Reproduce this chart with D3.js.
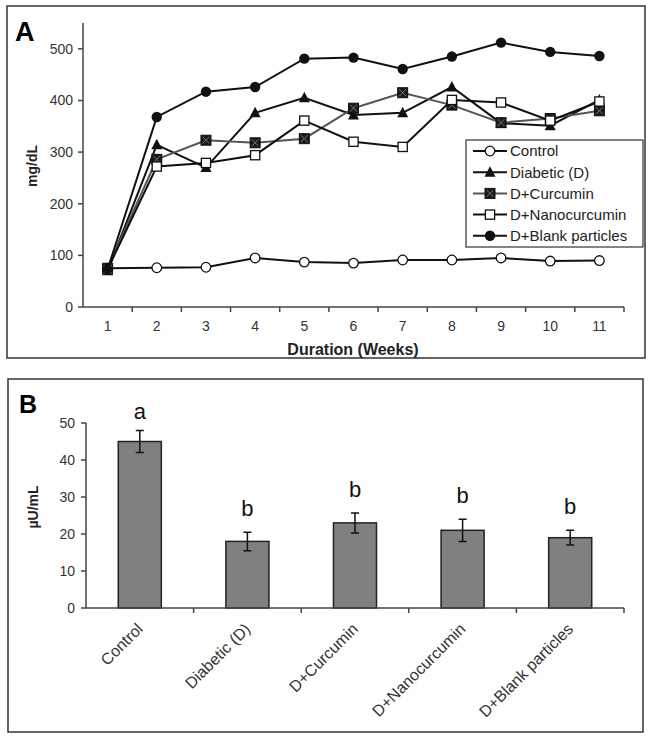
<!DOCTYPE html>
<html><head><meta charset="utf-8">
<script src="https://cdn.jsdelivr.net/npm/d3@7"></script>
<style>body{margin:0;background:#fff} text{font-family:"Liberation Sans",Arial,sans-serif}</style>
</head><body><svg id="c" width="653" height="739"></svg>
<script>
// ---- Panel A data (blood glucose, mg/dL) ----
const weeks = [1,2,3,4,5,6,7,8,9,10,11];
const control      = [75,76,77,95,87,85,91,91,95,89,90];
const diabetic     = [70,314,270,376,405,372,376,426,356,351,401];
const curcumin     = [75,286,323,318,326,385,415,391,357,365,380];
const nanocurcumin = [73,272,279,294,361,320,310,401,396,361,398];
const blank        = [73,368,417,426,481,483,461,485,512,494,486];
const seriesNames  = ["Control","Diabetic (D)","D+Curcumin","D+Nanocurcumin","D+Blank particles"];
const yTicksA = [0,100,200,300,400,500];

// ---- Panel B data (insulin, µU/mL) ----
const groups     = ["Control","Diabetic (D)","D+Curcumin","D+Nanocurcumin","D+Blank particles"];
const insulin    = [45,18,23,21,19];
const insulinErr = [3,2.5,2.7,3,2];
const letters    = ["a","b","b","b","b"];
const yTicksB = [0,10,20,30,40,50];

const svg = d3.select("#c");
const axisCol = "#444", tickTextCol = "#333";

// ---------- Panel A ----------
svg.append("rect").attr("x",7).attr("y",6).attr("width",638).attr("height",352)
  .attr("fill","none").attr("stroke","#333").attr("stroke-width",1.5);
svg.append("text").attr("x",15).attr("y",41).attr("font-size",27).attr("font-weight","bold").text("A");

const xA = d3.scaleBand().domain(weeks).range([83,624]);
const cx = w => xA(w) + xA.bandwidth()/2;
const yA = d3.scaleLinear().domain([0,550]).range([307,23]);

const gA = svg.append("g");
gA.append("line").attr("x1",83).attr("x2",83).attr("y1",yA(550)).attr("y2",yA(0)).attr("stroke",axisCol).attr("stroke-width",1.5);
yTicksA.forEach(t=>{
  gA.append("line").attr("x1",78).attr("x2",83).attr("y1",yA(t)).attr("y2",yA(t)).attr("stroke",axisCol).attr("stroke-width",1.5);
  gA.append("text").attr("x",73).attr("y",yA(t)).attr("dy","0.35em").attr("text-anchor","end")
    .attr("font-size",14).attr("fill",tickTextCol).text(t);
});
gA.append("line").attr("x1",83).attr("x2",624).attr("y1",yA(0)).attr("y2",yA(0)).attr("stroke",axisCol).attr("stroke-width",1.5);
weeks.forEach(w=>{
  const e = xA(w)+xA.bandwidth();
  gA.append("line").attr("x1",e).attr("x2",e).attr("y1",yA(0)).attr("y2",yA(0)+5).attr("stroke",axisCol).attr("stroke-width",1.5);
  gA.append("text").attr("x",cx(w)).attr("y",331).attr("text-anchor","middle")
    .attr("font-size",14).attr("fill",tickTextCol).text(w);
});
gA.append("text").attr("x",353).attr("y",355).attr("text-anchor","middle").attr("font-size",16)
  .attr("font-weight","bold").attr("fill","#222").text("Duration (Weeks)");
gA.append("text").attr("transform","translate(37,166) rotate(-90)").attr("text-anchor","middle")
  .attr("font-size",14).attr("font-weight","bold").attr("fill","#222").text("mg/dL");

function marker(g, type, x, y){
  if(type==="oc") g.append("circle").attr("cx",x).attr("cy",y).attr("r",4.8).attr("fill","#fff").attr("stroke","#111").attr("stroke-width",1.3);
  if(type==="fc") g.append("circle").attr("cx",x).attr("cy",y).attr("r",5.2).attr("fill","#111");
  if(type==="tr") g.append("path").attr("d",`M${x},${y-6}L${x+5.5},${y+4.5}L${x-5.5},${y+4.5}Z`).attr("fill","#111");
  if(type==="os") g.append("rect").attr("x",x-4.6).attr("y",y-4.6).attr("width",9.2).attr("height",9.2).attr("fill","#fff").attr("stroke","#111").attr("stroke-width",1.3);
  if(type==="xs"){
    g.append("rect").attr("x",x-5).attr("y",y-5).attr("width",10).attr("height",10).attr("fill","#1a1a1a").attr("stroke","#111").attr("stroke-width",1);
    g.append("path").attr("d",`M${x-3.5},${y-3.5}L${x+3.5},${y+3.5}M${x+3.5},${y-3.5}L${x-3.5},${y+3.5}`).attr("stroke","#777").attr("stroke-width",1);
  }
}
const series = [
  {name:seriesNames[0], vals:control, m:"oc", col:"#111"},
  {name:seriesNames[1], vals:diabetic, m:"tr", col:"#111"},
  {name:seriesNames[2], vals:curcumin, m:"xs", col:"#555"},
  {name:seriesNames[3], vals:nanocurcumin, m:"os", col:"#111"},
  {name:seriesNames[4], vals:blank, m:"fc", col:"#111"}
];
const line = d3.line().x((d,i)=>cx(weeks[i])).y(d=>yA(d));
series.forEach(s=>{
  gA.append("path").attr("d",line(s.vals)).attr("fill","none").attr("stroke",s.col).attr("stroke-width",2);
});
series.forEach(s=>{
  s.vals.forEach((v,i)=>marker(gA,s.m,cx(weeks[i]),yA(v)));
});
const lg = svg.append("g");
lg.append("rect").attr("x",466).attr("y",140).attr("width",177).attr("height",107).attr("fill","#fff").attr("stroke","#333").attr("stroke-width",1.2);
series.forEach((s,i)=>{
  const y = 151 + i*21.2;
  lg.append("line").attr("x1",473).attr("x2",507).attr("y1",y).attr("y2",y).attr("stroke",s.col).attr("stroke-width",2);
  marker(lg,s.m,490,y);
  lg.append("text").attr("x",510).attr("y",y).attr("dy","0.36em").attr("font-size",15).attr("fill","#222").text(s.name);
});

// ---------- Panel B ----------
svg.append("rect").attr("x",8).attr("y",379).attr("width",635).attr("height",353)
  .attr("fill","none").attr("stroke","#333").attr("stroke-width",1.5);
svg.append("text").attr("x",19).attr("y",413).attr("font-size",25).attr("font-weight","bold").text("B");

const xB = d3.scaleBand().domain(groups).range([86,624]);
const yB = d3.scaleLinear().domain([0,50]).range([608,423]);
const gB = svg.append("g");
gB.append("line").attr("x1",86).attr("x2",86).attr("y1",yB(50)).attr("y2",yB(0)).attr("stroke",axisCol).attr("stroke-width",1.5);
yTicksB.forEach(t=>{
  gB.append("line").attr("x1",81).attr("x2",86).attr("y1",yB(t)).attr("y2",yB(t)).attr("stroke",axisCol).attr("stroke-width",1.5);
  gB.append("text").attr("x",75).attr("y",yB(t)).attr("dy","0.35em").attr("text-anchor","end")
    .attr("font-size",14).attr("fill",tickTextCol).text(t);
});
gB.append("text").attr("transform","translate(38,507) rotate(-90)").attr("text-anchor","middle")
  .attr("font-size",14).attr("font-weight","bold").attr("fill","#222").text("µU/mL");

const bw = xB.bandwidth()*0.4;
groups.forEach((g,i)=>{
  const c = xB(g)+xB.bandwidth()/2;
  gB.append("rect").attr("x",c-bw/2).attr("y",yB(insulin[i])).attr("width",bw).attr("height",yB(0)-yB(insulin[i]))
    .attr("fill","#808080").attr("stroke","#222").attr("stroke-width",1.5);
  const hi = yB(insulin[i]+insulinErr[i]), lo = yB(insulin[i]-insulinErr[i]);
  gB.append("path").attr("d",`M${c},${hi}V${lo}M${c-4},${hi}H${c+4}M${c-4},${lo}H${c+4}`)
    .attr("stroke","#111").attr("stroke-width",1.5).attr("fill","none");
  gB.append("text").attr("x",c).attr("y",hi-(i===0?11:16)).attr("text-anchor","middle").attr("font-size",22)
    .attr("fill","#111").text(letters[i]);
});
gB.append("line").attr("x1",86).attr("x2",624).attr("y1",yB(0)).attr("y2",yB(0)).attr("stroke",axisCol).attr("stroke-width",1.5);
groups.forEach(g=>{
  const e = xB(g)+xB.bandwidth();
  gB.append("line").attr("x1",e).attr("x2",e).attr("y1",yB(0)).attr("y2",yB(0)+5).attr("stroke",axisCol).attr("stroke-width",1.5);
  const c = xB(g)+xB.bandwidth()/2;
  gB.append("text").attr("transform",`translate(${c},626) rotate(-45)`).attr("text-anchor","end")
    .attr("dy","0.35em").attr("font-size",16).attr("fill",tickTextCol).text(g);
});
</script></body></html>
